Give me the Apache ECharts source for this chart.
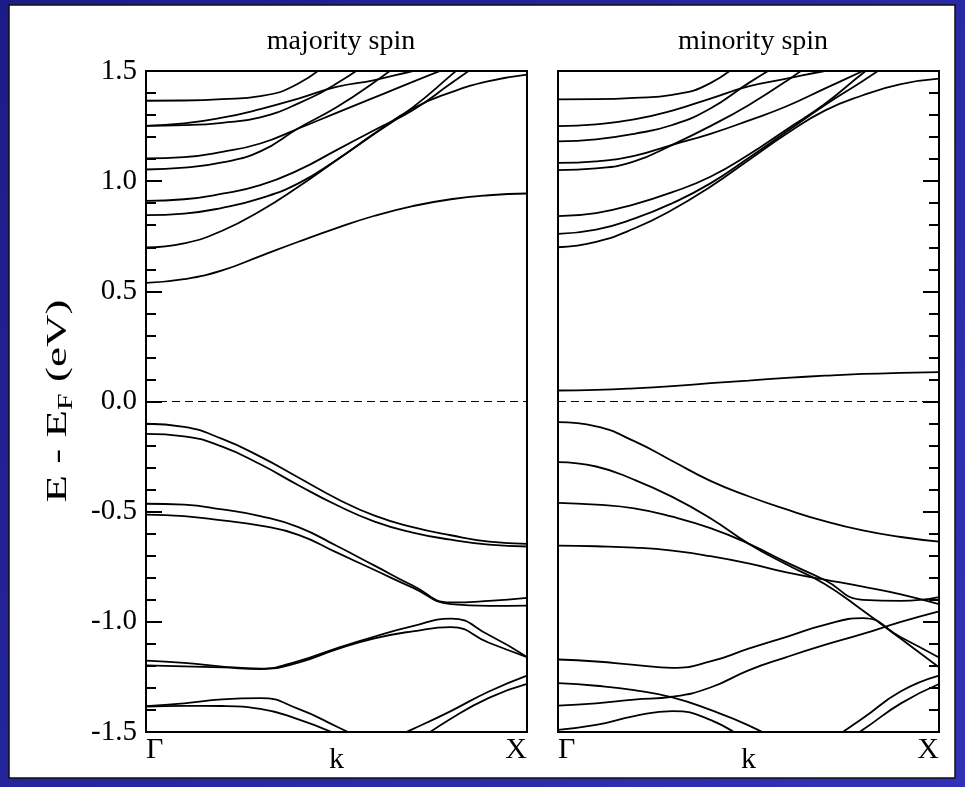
<!DOCTYPE html>
<html>
<head>
<meta charset="utf-8">
<script src="https://cdn.jsdelivr.net/npm/echarts@6/dist/echarts.min.js"></script>
<style>
html,body{margin:0;padding:0;background:#22229a;}
#chart{width:965px;height:787px;}
</style>
</head>
<body>
<div id="chart"></div>
<script>
// ---- data ----
const kGrid = [0, 0.1, 0.2, 0.3, 0.4, 0.5, 0.6, 0.7, 0.8, 0.9, 1.0];
const kLabels = ['Γ', 'k', 'X'];
const yTickLabels = ['-1.5', '-1.0', '-0.5', '0.0', '0.5', '1.0', '1.5'];
const panelTitles = ['majority spin', 'minority spin'];
const yAxisTitle = ['E - E', 'F', ' (eV)'];
const fermiLevel = 0;

// majority spin: conduction bands
const majC1 = [1.365, 1.366, 1.372, 1.386, 1.443, 1.57];
const majC2 = [1.251, 1.254, 1.265, 1.29, 1.353, 1.443, 1.56];
const majC3 = [1.251, 1.262, 1.288, 1.327, 1.375, 1.428, 1.459, 1.50, 1.54];
const majC4 = [1.103, 1.109, 1.133, 1.171, 1.239, 1.310, 1.380, 1.451, 1.519];
const majC5 = [1.053, 1.061, 1.085, 1.135, 1.240, 1.335, 1.45, 1.58];
const majC6 = [0.911, 0.918, 0.943, 0.982, 1.050, 1.141, 1.232, 1.322, 1.443, 1.565];
const majC7 = [0.846, 0.853, 0.879, 0.922, 0.990, 1.096, 1.217, 1.330, 1.403, 1.454, 1.484];
const majC8 = [0.699, 0.718, 0.775, 0.865, 0.975, 1.095, 1.215, 1.335, 1.48, 1.63];
const majC9 = [0.538, 0.555, 0.595, 0.66, 0.725, 0.787, 0.843, 0.887, 0.918, 0.936, 0.944];
// majority spin: valence bands
const majV1 = [-0.101, -0.115, -0.17, -0.25, -0.345, -0.44, -0.518, -0.57, -0.607, -0.636, -0.646];
const majV2 = [-0.147, -0.158, -0.205, -0.285, -0.38, -0.47, -0.545, -0.595, -0.627, -0.65, -0.658];
const majV3 = [-0.464, -0.468, -0.49, -0.52, -0.57, -0.655, -0.745, -0.835, -0.912, -0.905, -0.891];
const majV4 = [-0.513, -0.52, -0.54, -0.563, -0.605, -0.685, -0.765, -0.845, -0.92, -0.928, -0.926];
const majV5 = [-1.176, -1.186, -1.203, -1.212, -1.178, -1.12, -1.067, -1.02, -0.985, -1.06, -1.16];
const majV6 = [-1.198, -1.202, -1.207, -1.214, -1.185, -1.125, -1.075, -1.043, -1.024, -1.095, -1.16];
const majV7 = [-1.383, -1.37, -1.352, -1.346, -1.395, -1.475, -1.56];
const majV8 = [-1.385, -1.381, -1.382, -1.395, -1.443, -1.51, -1.59];
const majV9 = [null, null, null, null, null, null, -1.565, -1.487, -1.405, -1.316, -1.244];
const majV10 = [null, null, null, null, null, null, null, -1.555, -1.44, -1.345, -1.282];

// minority spin: conduction bands
const minC1 = [1.371, 1.372, 1.378, 1.392, 1.445, 1.57];
const minC2 = [1.250, 1.258, 1.28, 1.32, 1.375, 1.43, 1.465, 1.50, 1.53];
const minC3 = [1.181, 1.19, 1.215, 1.255, 1.33, 1.445, 1.55];
const minC4 = [1.083, 1.09, 1.115, 1.165, 1.215, 1.275, 1.34, 1.42, 1.50, 1.58];
const minC5 = [1.050, 1.058, 1.09, 1.165, 1.25, 1.345, 1.455, 1.58];
const minC6 = [0.841, 0.855, 0.895, 0.95, 1.02, 1.12, 1.235, 1.35, 1.49, 1.62];
const minC7 = [0.761, 0.78, 0.83, 0.9, 0.99, 1.105, 1.225, 1.345, 1.455, 1.57];
const minC8 = [0.700, 0.725, 0.785, 0.87, 0.975, 1.095, 1.215, 1.32, 1.39, 1.44, 1.465];
const minC9 = [0.050, 0.053, 0.06, 0.07, 0.083, 0.095, 0.107, 0.117, 0.125, 0.13, 0.133];
// minority spin: valence bands
const minV1 = [-0.094, -0.113, -0.18, -0.27, -0.36, -0.43, -0.49, -0.543, -0.585, -0.615, -0.636];
const minV2 = [-0.275, -0.295, -0.355, -0.433, -0.53, -0.645, -0.74, -0.828, -0.949, -1.077, -1.206];
const minV3 = [-0.460, -0.468, -0.485, -0.523, -0.575, -0.645, -0.73, -0.81, -0.9, -0.905, -0.888];
const minV4 = [-0.654, -0.657, -0.663, -0.677, -0.702, -0.735, -0.776, -0.808, -0.84, -0.875, -0.92];
const minV5 = [-1.171, -1.18, -1.195, -1.209, -1.18, -1.122, -1.068, -1.014, -0.983, -1.07, -1.162];
const minV6 = [-1.278, -1.29, -1.31, -1.343, -1.40, -1.47, -1.56];
const minV7 = [-1.38, -1.37, -1.353, -1.34, -1.298, -1.22, -1.16, -1.105, -1.055, -1.0, -0.952];
const minV8 = [-1.49, -1.468, -1.428, -1.405, -1.445, -1.545];
const minV9 = [null, null, null, null, null, null, null, -1.555, -1.438, -1.315, -1.244];
const minV10 = [null, null, null, null, null, null, null, -1.6, -1.49, -1.37, -1.282];

const majorityBands = [majC1, majC2, majC3, majC4, majC5, majC6, majC7, majC8, majC9,
  majV1, majV2, majV3, majV4, majV5, majV6, majV7, majV8, majV9, majV10];
const minorityBands = [minC1, minC2, minC3, minC4, minC5, minC6, minC7, minC8, minC9,
  minV1, minV2, minV3, minV4, minV5, minV6, minV7, minV8, minV9, minV10];

// ---- chart ----
const FONT = "'Liberation Serif','Times New Roman',serif";
const chart = echarts.init(document.getElementById('chart'), null, {renderer: 'canvas'});

function bandSeries(band, gi) {
  return {
    type: 'line', xAxisIndex: gi, yAxisIndex: gi,
    data: band.map((e, i) => [kGrid[i], e]),
    symbol: 'none', smooth: 0.5, clip: true, connectNulls: false,
    lineStyle: {color: '#000', width: 1.8}, silent: true, z: 3
  };
}
function fermiSeries(gi) {
  return {
    type: 'line', xAxisIndex: gi, yAxisIndex: gi,
    data: [[kGrid[0], fermiLevel], [kGrid[kGrid.length - 1], fermiLevel]],
    symbol: 'none', lineStyle: {color: '#000', width: 1.2, type: [8, 5]}, silent: true, z: 2
  };
}
function xAxisCfg(gi) {
  return {
    gridIndex: gi, type: 'value', min: 0, max: 1, interval: 0.5,
    axisLine: {show: false, onZero: false}, axisTick: {show: false}, splitLine: {show: false},
    axisLabel: {
      margin: 3, color: '#000', fontFamily: FONT, fontSize: 30,
      alignMinLabel: 'left', alignMaxLabel: 'right',
      formatter: v => {
        const idx = Math.round(v * 2);
        return idx === 1 ? '{k|' + kLabels[1] + '}' : kLabels[idx];
      },
      rich: {k: {fontFamily: FONT, fontSize: 30, color: '#000', padding: [10, 0, 0, 0]}}
    }
  };
}
function yAxisCfg(gi) {
  const left = gi === 0;
  return {
    gridIndex: gi, type: 'value', min: -1.5, max: 1.5, interval: 0.5,
    position: left ? 'left' : 'right',
    axisLine: {show: false, onZero: false},
    axisTick: {show: true, inside: true, length: 16, lineStyle: {color: '#000', width: 2}},
    minorTick: {show: true, splitNumber: 5, length: 10, lineStyle: {color: '#000', width: 2}},
    splitLine: {show: false}, minorSplitLine: {show: false},
    axisLabel: {
      show: left, margin: 9, color: '#000', fontFamily: FONT, fontSize: 29,
      formatter: v => yTickLabels[Math.round((v + 1.5) * 2)]
    }
  };
}

const series = [];
majorityBands.forEach(b => series.push(bandSeries(b, 0)));
minorityBands.forEach(b => series.push(bandSeries(b, 1)));
series.push(fermiSeries(0));
series.push(fermiSeries(1));

chart.setOption({
  animation: false,
  backgroundColor: {
    type: 'linear', x: 0, y: 0, x2: 1, y2: 1,
    colorStops: [{offset: 0, color: '#1c1c88'}, {offset: 1, color: '#3232b8'}]
  },
  graphic: [{
    type: 'rect', z: -10, silent: true,
    shape: {x: 9, y: 5, width: 946, height: 773},
    style: {fill: '#fff', stroke: '#111', lineWidth: 1.5}
  }, {
    type: 'text', z: 10, silent: true,
    x: 58, y: 401, rotation: Math.PI / 2, scaleX: 1.5,
    style: {
      text: '{a|' + yAxisTitle[0] + '}{s|' + yAxisTitle[1] + '}{a|' + yAxisTitle[2] + '}',
      align: 'center', verticalAlign: 'middle',
      rich: {
        a: {fontFamily: FONT, fontSize: 30, fill: '#000', lineHeight: 37},
        s: {fontFamily: FONT, fontSize: 20, fill: '#000', lineHeight: 20, padding: [17, 0, 0, 0]}
      }
    }
  }],
  title: [
    {text: panelTitles[0], left: 336, top: 23, textAlign: 'center',
     textStyle: {fontFamily: FONT, fontSize: 28, fontWeight: 'normal', color: '#000'}},
    {text: panelTitles[1], left: 748, top: 23, textAlign: 'center',
     textStyle: {fontFamily: FONT, fontSize: 28, fontWeight: 'normal', color: '#000'}}
  ],
  grid: [
    {left: 146, top: 71, width: 381, height: 661, show: true, borderColor: '#000', borderWidth: 2, backgroundColor: '#fff'},
    {left: 558, top: 71, width: 381, height: 661, show: true, borderColor: '#000', borderWidth: 2, backgroundColor: '#fff'}
  ],
  xAxis: [xAxisCfg(0), xAxisCfg(1)],
  yAxis: [yAxisCfg(0), yAxisCfg(1)],
  series: series
});
</script>
</body>
</html>
